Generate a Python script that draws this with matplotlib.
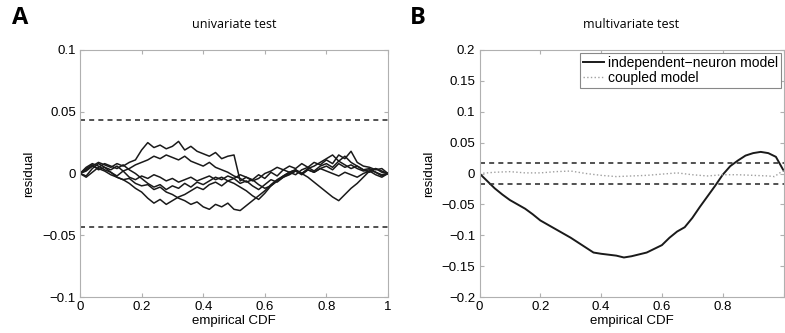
import numpy as np
import matplotlib.pyplot as plt

# ---- data ----
# panel A: six univariate residual walks, sampled every 0.02 of the empirical CDF (units of 1e-3)
cdf_a = np.linspace(0, 1, 51)
walk1 = [0, 3, 6, 9, 7, 5, 8, 6, 9, 11, 19, 25, 21, 23, 20, 22, 26, 19, 22, 18, 16, 14, 17, 12, 14,
         15, -6, -3, -5, -1, -4, 1, -2, 3, 6, 4, 8, 5, 9, 7, 11, 8, 15, 12, 18, 9, 6, 5, 3, 4, 0]
walk2 = [0, -2, 4, 8, 5, 3, 6, 2, 4, 7, 9, 11, 14, 12, 15, 13, 11, 14, 10, 8, 6, 9, 5, 3, 1,
         -2, -4, -7, -5, -9, -12, -10, -6, -3, -1, 2, 0, 3, 1, 4, 6, 3, 8, 5, 7, 4, 2, 3, 1, -2, 0]
walk3 = [0, 4, 7, 3, 5, 1, -2, 2, -3, -5, -2, -4, -1, -3, -6, -4, -7, -5, -3, -6, -4, -2, -5, -3, -6,
         -4, -8, -6, -10, -13, -9, -5, -7, -3, 0, 2, -1, 3, 1, 4, 2, 0, -2, 1, -1, -3, 0, 2, -1, -3, 0]
walk4 = [0, 5, 8, 6, 3, 1, -3, -5, -8, -12, -15, -20, -24, -21, -25, -22, -19, -17, -14, -11, -13, -9, -7, -10, -6,
         -8, -11, -14, -18, -21, -16, -10, -6, -2, 1, 3, 0, 4, 6, 9, 12, 15, 10, 7, 4, 6, 3, 1, 4, 2, 0]
walk5 = [0, 2, 6, 4, 2, -1, -3, -5, -4, -8, -10, -9, -13, -11, -15, -17, -20, -22, -25, -23, -27, -29, -25, -27, -24,
         -29, -30, -26, -22, -18, -14, -9, -5, -2, 1, -1, 3, 5, 2, 6, 8, 5, 10, 14, 9, 6, 3, 4, 1, -1, 0]
walk6 = [0, -3, 1, 5, 8, 6, 4, 7, 3, 0, -4, -8, -11, -9, -13, -10, -12, -8, -11, -7, -9, -6, -3, -5, -2,
         -4, -1, -3, -6, -4, 0, 2, 5, 3, 1, 3, 0, -3, -7, -11, -15, -19, -22, -17, -12, -8, -3, 2, 4, 1, 0]
walks = [walk1, walk2, walk3, walk4, walk5, walk6]
bound_a = 0.0435

# panel B
cdf_b = [0, 0.025, 0.05, 0.075, 0.1, 0.125, 0.15, 0.175, 0.2, 0.25, 0.3, 0.35, 0.375, 0.4, 0.45,
         0.475, 0.5, 0.55, 0.6, 0.625, 0.65, 0.675, 0.7, 0.725, 0.75, 0.775, 0.8, 0.825, 0.85,
         0.875, 0.9, 0.925, 0.95, 0.975, 1.0]
indep = [0, -0.012, -0.024, -0.034, -0.043, -0.05, -0.057, -0.066, -0.076, -0.09, -0.104, -0.12,
         -0.128, -0.13, -0.133, -0.136, -0.134, -0.128, -0.116, -0.104, -0.094, -0.087, -0.072,
         -0.054, -0.037, -0.02, -0.002, 0.012, 0.021, 0.029, 0.033, 0.035, 0.033, 0.027, 0.005]
cdf_c = [0, 0.05, 0.1, 0.15, 0.2, 0.25, 0.3, 0.35, 0.4, 0.45, 0.5, 0.55, 0.6, 0.65, 0.7,
         0.75, 0.8, 0.85, 0.9, 0.95, 0.97, 1.0]
coupled = [0, 0.002, 0.003, 0.001, 0.001, 0.003, 0.004, 0.0, -0.003, -0.005, -0.004, -0.003,
           -0.001, 0.001, -0.002, -0.004, -0.002, -0.002, -0.003, -0.004, -0.005, 0.005]
bound_b = 0.0172

xticks = [0, 0.2, 0.4, 0.6, 0.8, 1]
xticklabels_a = ['0', '0.2', '0.4', '0.6', '0.8', '1']
xticklabels_b = ['0', '0.2', '0.4', '0.6', '0.8', '']   # the "1" falls outside the picture
yticks_a = [-0.1, -0.05, 0, 0.05, 0.1]
yticklabels_a = ['\u22120.1', '\u22120.05', '0', '0.05', '0.1']
yticks_b = [-0.2, -0.15, -0.1, -0.05, 0, 0.05, 0.1, 0.15, 0.2]
yticklabels_b = ['\u22120.2', '\u22120.15', '\u22120.1', '\u22120.05', '0', '0.05', '0.1', '0.15', '0.2']

plt.rcParams['font.family'] = ['Liberation Sans', 'DejaVu Sans']

fig = plt.figure(figsize=(7.85, 3.33), dpi=100)
ax1 = fig.add_axes([80 / 785, 36 / 333, 308 / 785, 247 / 333])
ax2 = fig.add_axes([479.5 / 785, 36 / 333, 304 / 785, 247 / 333])


def style(ax, xlabels):
    for s in ax.spines.values():
        s.set_color('#b0b0b0')
        s.set_linewidth(0.8)
    ax.tick_params(direction='in', length=3, color='#b0b0b0', top=True, right=True,
                   labelsize=9.5, pad=3)
    ax.set_xlim(0, 1)
    ax.set_xticks(xticks)
    ax.set_xticklabels(xlabels)
    ax.set_xlabel('empirical CDF', fontsize=9.5, labelpad=1)
    ax.set_ylabel('residual', fontsize=9.5, labelpad=5)


for w in walks:
    ax1.plot(cdf_a, np.array(w) / 1000, color='#1a1a1a', lw=1.1)
ax1.axhline(bound_a, color='#333333', ls='--', lw=1.2, dashes=(3, 2.5))
ax1.axhline(-bound_a, color='#333333', ls='--', lw=1.2, dashes=(3, 2.5))
style(ax1, xticklabels_a)
ax1.set_ylim(-0.1, 0.1)
ax1.set_yticks(yticks_a)
ax1.set_yticklabels(yticklabels_a)
ax1.set_title('univariate test', fontsize=9, family='Open Sans', pad=16)

ax2.plot(cdf_b, indep, color='#1a1a1a', lw=1.4, label='independent\u2212neuron model')
ax2.plot(cdf_c, coupled, color='#a0a0a0', ls=':', lw=1.0, label='coupled model')
ax2.axhline(bound_b, color='#333333', ls='--', lw=1.2, dashes=(3, 2.5))
ax2.axhline(-bound_b, color='#333333', ls='--', lw=1.2, dashes=(3, 2.5))
style(ax2, xticklabels_b)
ax2.set_ylim(-0.2, 0.2)
ax2.set_yticks(yticks_b)
ax2.set_yticklabels(yticklabels_b)
ax2.set_title('multivariate test', fontsize=9, family='Open Sans', pad=16)
leg = ax2.legend(loc='upper right', fontsize=10, fancybox=False, framealpha=1,
                 edgecolor='#888888', borderpad=0.2, labelspacing=0.1,
                 handlelength=1.5, handletextpad=0.3, borderaxespad=0.2)
leg.get_frame().set_linewidth(0.8)

fig.text(12 / 785, 1 - 6 / 333, 'A', fontsize=17, fontweight='bold', family='Open Sans', va='top')
fig.text(410 / 785, 1 - 6 / 333, 'B', fontsize=17, fontweight='bold', family='Open Sans', va='top')

fig.savefig('out.png', dpi=100)
